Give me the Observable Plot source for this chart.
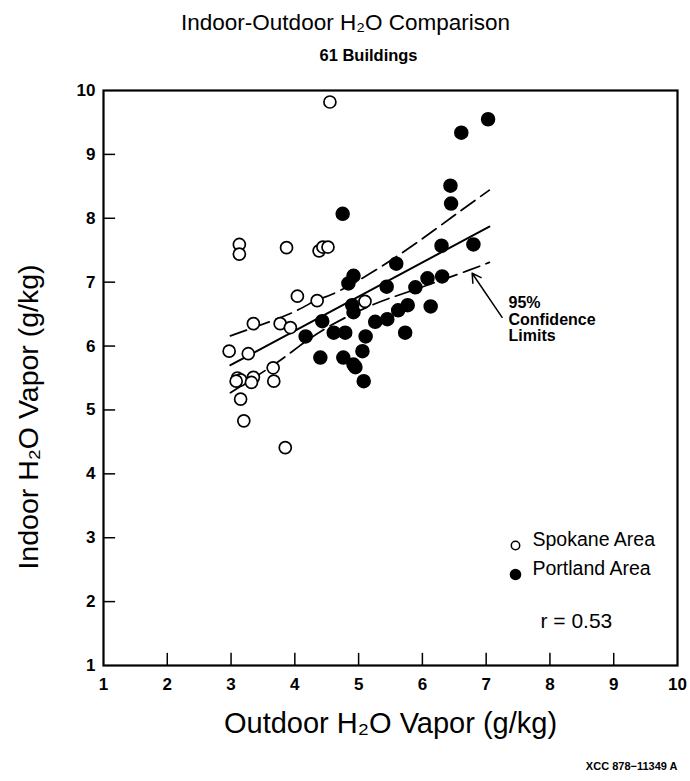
<!DOCTYPE html>
<html>
<head>
<meta charset="utf-8">
<script src="https://cdn.jsdelivr.net/npm/d3@7"></script>
<script src="https://cdn.jsdelivr.net/npm/@observablehq/plot@0.6"></script>
<style>
  body { margin: 0; background: #fff; }
  svg { font-family: "Liberation Sans", Arial, sans-serif; }
</style>
</head>
<body>
<div id="chart"></div>
<script>
// Spokane Area (open circles)
const spokaneX = [2.97, 3.13, 3.13, 3.10, 3.15, 3.08, 3.35, 3.32, 3.15, 3.20, 3.27, 3.35, 3.77, 3.93, 3.66, 3.67, 3.85, 3.87, 4.04, 4.35, 4.38, 4.44, 4.52, 4.55, 5.10];
const spokaneY = [5.92, 7.59, 7.44, 5.50, 5.47, 5.45, 5.51, 5.43, 5.17, 4.83, 5.88, 6.35, 6.35, 6.29, 5.66, 5.45, 4.41, 7.54, 6.78, 6.71, 7.49, 7.55, 7.55, 9.82, 6.70];
// Portland Area (filled circles)
const portlandX = [4.17, 4.43, 4.40, 4.61, 4.79, 4.76, 4.92, 4.95, 5.08, 5.06, 5.11, 4.90, 4.92, 4.84, 4.92, 4.75, 5.26, 5.45, 5.73, 5.62, 5.77, 6.13, 5.44, 5.89, 6.08, 6.31, 5.59, 6.30, 6.80, 6.44, 6.45, 6.61, 7.03];
const portlandY = [6.15, 6.39, 5.82, 6.21, 6.21, 5.82, 5.71, 5.67, 5.45, 5.92, 6.15, 6.64, 6.53, 6.98, 7.10, 8.07, 6.38, 6.42, 6.21, 6.56, 6.64, 6.62, 6.93, 6.92, 7.06, 7.09, 7.29, 7.57, 7.59, 8.51, 8.23, 9.34, 9.55];
// Regression line and 95% confidence limits
const fitX = [2.99, 7.05];
const fitY = [5.70, 7.87];
const upperX = [2.99, 3.93, 4.32, 4.71, 5.58, 6.44, 7.05];
const upperY = [6.16, 6.51, 6.71, 6.87, 7.39, 8.00, 8.44];
const lowerX = [2.99, 3.66, 4.06, 4.56, 5.23, 5.84, 6.71, 7.05];
const lowerY = [5.27, 5.70, 5.99, 6.32, 6.65, 6.87, 7.18, 7.31];
// Tick values
const xTicks = [1, 2, 3, 4, 5, 6, 7, 8, 9, 10];
const yTicks = [1, 2, 3, 4, 5, 6, 7, 8, 9, 10];
const innerTicks = [2, 3, 4, 5, 6, 7, 8, 9];
// Annotation and legend text
const annotationLines = ["95%", "Confidence", "Limits"];
const legendLabels = ["Spokane Area", "Portland Area"];

const spokane = spokaneX.map((x, i) => ({x, y: spokaneY[i]}));
const portland = portlandX.map((x, i) => ({x, y: portlandY[i]}));
const fit = fitX.map((x, i) => ({x, y: fitY[i]}));
const upper = upperX.map((x, i) => ({x, y: upperY[i]}));
const lower = lowerX.map((x, i) => ({x, y: lowerY[i]}));

const font = "Liberation Sans, Arial, sans-serif";
const tickLen = 0.19;

const chart = Plot.plot({
  width: 690,
  height: 781,
  marginLeft: 103,
  marginRight: 13,
  marginTop: 90,
  marginBottom: 116,
  style: {fontFamily: font, background: "#fff", color: "#000"},
  x: {domain: [1, 10], ticks: xTicks, tickFormat: d => String(d)},
  y: {domain: [1, 10], ticks: yTicks, tickFormat: d => String(d)},
  marks: [
    Plot.axisX({ticks: xTicks, tickSize: 0, tickPadding: 12, fontSize: 17, fontWeight: "bold", label: null}),
    Plot.axisY({ticks: yTicks, tickSize: 0, tickPadding: 8, fontSize: 17, fontWeight: "bold", label: null}),
    Plot.ruleX(innerTicks, {x: d => d, y1: 1, y2: 1 + tickLen, stroke: "#000", strokeWidth: 1.5}),
    Plot.ruleY(innerTicks, {y: d => d, x1: 1, x2: 1 + tickLen, stroke: "#000", strokeWidth: 1.5}),
    Plot.frame({stroke: "#000", strokeWidth: 2.2}),
    Plot.line(upper, {x: "x", y: "y", curve: "natural", stroke: "#000", strokeWidth: 1.7, strokeDasharray: "17,7"}),
    Plot.line(lower, {x: "x", y: "y", curve: "natural", stroke: "#000", strokeWidth: 1.7, strokeDasharray: "17,7"}),
    Plot.line(fit, {x: "x", y: "y", stroke: "#000", strokeWidth: 2}),
    Plot.dot(spokane, {x: "x", y: "y", r: 6, fill: "#fff", stroke: "#000", strokeWidth: 1.7}),
    Plot.dot(portland, {x: "x", y: "y", r: 6.5, fill: "#000", stroke: "#000"}),
    // annotation
    Plot.arrow([{x1: 7.25, y1: 6.45, x2: 6.78, y2: 7.14}], {x1: "x1", y1: "y1", x2: "x2", y2: "y2", bend: 0, headLength: 10, stroke: "#000", strokeWidth: 1.5}),
    Plot.text([annotationLines.join("\n")], {x: 7.35, y: 6.42, text: d => d, textAnchor: "start", lineAnchor: "middle", lineHeight: 1.05, fontSize: 16, fontWeight: "bold"}),
    // legend
    Plot.dot([legendLabels[0]], {frameAnchor: "bottom-right", dx: -162, dy: -120, r: 4.2, fill: "#fff", stroke: "#000", strokeWidth: 1.5}),
    Plot.dot([legendLabels[1]], {frameAnchor: "bottom-right", dx: -162, dy: -91, r: 5.8, fill: "#000"}),
    Plot.text([legendLabels[0]], {frameAnchor: "bottom-right", dx: -145, dy: -120, text: d => d, textAnchor: "start", fontSize: 19.5}),
    Plot.text([legendLabels[1]], {frameAnchor: "bottom-right", dx: -145, dy: -91, text: d => d, textAnchor: "start", fontSize: 19.5}),
    Plot.text(["r = 0.53"], {frameAnchor: "bottom-right", dx: -137, dy: -38, text: d => d, textAnchor: "start", fontSize: 21}),
    // axis titles
    Plot.text(["Outdoor H₂O Vapor (g/kg)"], {frameAnchor: "bottom", dy: 58, text: d => d, textAnchor: "middle", fontSize: 29, lineAnchor: "middle"}),
    Plot.text(["Indoor H₂O Vapor (g/kg)"], {frameAnchor: "left", dx: -75, dy: 39, rotate: -90, text: d => d, textAnchor: "middle", fontSize: 28.5, lineAnchor: "middle"}),
    // titles
    Plot.text(["Indoor-Outdoor H₂O Comparison"], {frameAnchor: "top", dx: -45, dy: -68, text: d => d, textAnchor: "middle", fontSize: 22.5, lineAnchor: "middle"}),
    Plot.text(["61 Buildings"], {frameAnchor: "top", dx: -22, dy: -35, text: d => d, textAnchor: "middle", fontSize: 16.5, fontWeight: "bold", lineAnchor: "middle"}),
    Plot.text(["XCC 878−11349 A"], {frameAnchor: "bottom-right", dx: 0, dy: 101, text: d => d, textAnchor: "end", fontSize: 11, fontWeight: "bold", lineAnchor: "middle"})
  ]
});
document.getElementById("chart").appendChild(chart);
</script>
</body>
</html>
